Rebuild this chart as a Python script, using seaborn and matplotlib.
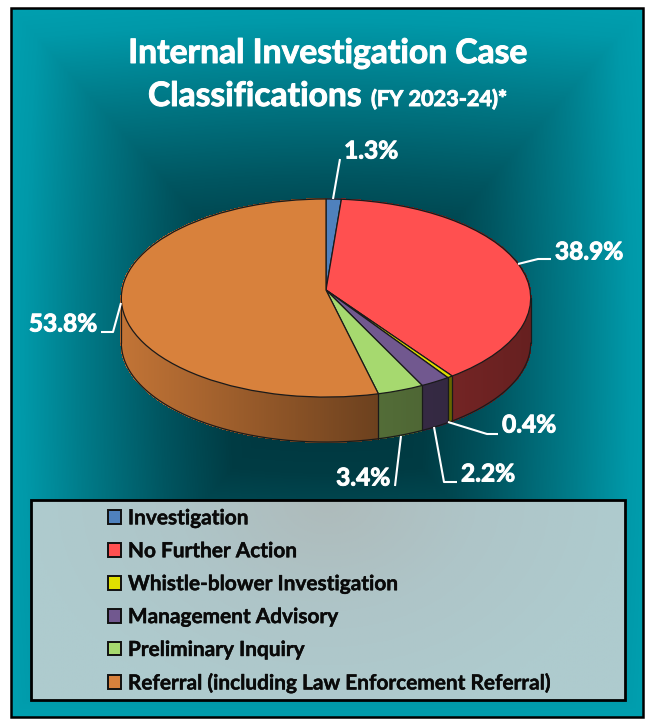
import numpy as np
import matplotlib
matplotlib.use("Agg")
import matplotlib.pyplot as plt
import matplotlib.transforms as mtransforms
import matplotlib.patheffects as pe
from matplotlib.collections import PolyCollection
from matplotlib.patches import Rectangle
from matplotlib.colors import LinearSegmentedColormap, to_rgb
import seaborn as sns

categories = ["Investigation", "No Further Action", "Whistle-blower Investigation",
              "Management Advisory", "Preliminary Inquiry",
              "Referral (including Law Enforcement Referral)"]
values = [1.3, 38.9, 0.4, 2.2, 3.4, 53.8]
colors = ["#4F81BD", "#FF5050", "#DFDF00", "#71588F", "#A6D96F", "#D8813C"]

label_pos = [(371, 151), (589, 252), (529, 425), (488, 474), (363, 478), (63, 324)]
leaders = [[(340, 159), (333, 199)],
           [(551, 259), (538, 259), (518, 264)],
           [(448, 422), (487, 434), (498, 434)],
           [(434, 427), (444, 482), (457, 482)],
           [(401, 436), (395, 486)],
           [(121, 303), (113, 332), (101, 332)]]

CX, CY, A, B, K, DEPTH = 326.0, 290.0, 204.0, 98.4, 0.081, 45.0
FONT = "Lato"

sns.set_theme(style="white")
plt.rcParams["font.family"] = [FONT, "DejaVu Sans"]


class Tilt(mtransforms.Transform):
    input_dims = 2
    output_dims = 2
    is_separable = False

    def transform_non_affine(self, values):
        v = np.asarray(values, dtype=float)
        w = 1 + K * v[:, 1]
        return np.column_stack([CX + A * v[:, 0] / w, CY - B * v[:, 1] / w])


tilt = Tilt()
fig = plt.figure(figsize=(6.45, 7.19), dpi=100, facecolor="white")
ax = fig.add_axes([0, 0, 1, 1])
heavy = [pe.withStroke(linewidth=0.7, foreground="white")]
heavy_dark = [pe.withStroke(linewidth=0.3, foreground="#0a0a0a")]

# background gradient
gx, gy = np.meshgrid(np.arange(11, 644), np.arange(8, 718))
t = np.maximum(np.abs(gx - 327) / 316, np.abs(gy - 362) / 354)
t2 = np.hypot((gx - 327) / 316, (gy - 362) / 354) / 1.414
tt = 0.85 * t + 0.15 * t2
bg = LinearSegmentedColormap.from_list("bg", [(0, "#00323A"), (0.3, "#003C44"), (0.5, "#005560"),
                                              (0.75, "#007C8A"), (0.92, "#0099A9"), (1, "#00A0B0")])
ax.imshow(tt, cmap=bg, vmin=0, vmax=1, extent=(11, 644, 718, 8), aspect="auto", zorder=0, interpolation="bilinear")
ax.add_patch(Rectangle((11, 8), 632, 709, fill=False, edgecolor="black", linewidth=1.8, zorder=6))

# wall of the disc
cum = np.concatenate([[0], np.cumsum(values)]) / 100 * 2 * np.pi


def rim(phi, drop=0.0):
    pts = tilt.transform_non_affine(np.column_stack([np.sin(phi), np.cos(phi)]))
    pts[:, 1] += drop
    return pts


polys, faces = [], []
for i, c in enumerate(colors):
    n = max(2, int(np.degrees(cum[i + 1] - cum[i]) * 2))
    ph = np.linspace(cum[i], cum[i + 1], n)
    for a0, a1 in zip(ph[:-1], ph[1:]):
        seg = np.array([a0, a1])
        top, low = rim(seg), rim(seg, DEPTH)
        polys.append(np.vstack([top, low[::-1]]))
        f = np.interp(top[:, 0].mean(), [120, 378, 530], [0.9, 0.5, 0.4])
        faces.append(np.array(to_rgb(c)) * f)
ax.add_collection(PolyCollection(polys, facecolors=faces, edgecolors="face", linewidths=0.6,
                                 antialiaseds=False, zorder=2))

ext = np.arccos(-K)
front = np.linspace(ext, 2 * np.pi - ext, 200)
ax.plot(*rim(front, DEPTH).T, color="#1a1a1a", lw=0.9, zorder=3)
for ph in [ext, 2 * np.pi - ext] + [p for p in cum[1:-1] if ext < p < 2 * np.pi - ext]:
    p = np.array([ph])
    ax.plot([rim(p)[0, 0]] * 2, [rim(p)[0, 1], rim(p, DEPTH)[0, 1]], color="#1a1a1a", lw=0.9, zorder=3)

# top face
wedges, _ = ax.pie(values, colors=sns.color_palette(colors), startangle=90, counterclock=False,
                   wedgeprops=dict(edgecolor="#1a1a1a", linewidth=0.9, zorder=4))
for w in wedges:
    w.set_transform(tilt + ax.transData)

ax.set_aspect("auto")
ax.set_xlim(0, 645)
ax.set_ylim(719, 0)
ax.axis("off")

# value labels
for v, (x, y), pts in zip(values, label_pos, leaders):
    ax.text(x, y, f"{v:.1f}%", color="white", fontsize=17.6, fontweight="bold",
            ha="center", va="center", zorder=7, path_effects=heavy)
    ax.plot(*zip(*pts), color="white", lw=1.5, zorder=7, solid_capstyle="butt")

# title
ax.text(328, 53, "Internal Investigation Case", color="white", fontsize=24.2, fontweight="bold",
        ha="center", va="center", zorder=7, path_effects=heavy)
ax.text(148, 106, "Classifications", color="white", fontsize=24.2, fontweight="bold",
        ha="left", va="baseline", zorder=7, path_effects=heavy)
ax.text(371, 106, "(FY 2023-24)*", color="white", fontsize=15.6, fontweight="bold",
        ha="left", va="baseline", zorder=7, path_effects=heavy)

# legend panel
lx, ly = np.meshgrid(np.linspace(-1, 1, 200), np.linspace(0, 1, 70))
panel = LinearSegmentedColormap.from_list("panel", ["#AEBBBB", "#AEC5C8", "#AECBCE"])
ax.imshow(np.clip(np.hypot(lx, ly * 0.9), 0, 1), cmap=panel, vmin=0, vmax=1, extent=(31, 625, 700, 500),
          aspect="auto", zorder=5, interpolation="bilinear")
ax.add_patch(Rectangle((31, 500), 594, 200, fill=False, edgecolor="black", linewidth=2, zorder=5.5))
ax.set_xlim(0, 645)
ax.set_ylim(719, 0)

leg = ax.legend(wedges, categories, loc="upper left", bbox_to_anchor=(100 / 645, 1 - 500 / 719),
                frameon=False, labelspacing=0.62, handlelength=0.62, handleheight=0.62,
                handletextpad=0.32, borderpad=0.4, borderaxespad=0,
                prop=dict(family=FONT, weight="bold", size=15.0))
leg.set_zorder(7)
for txt in leg.get_texts():
    txt.set_color("#0a0a0a")
    txt.set_path_effects(heavy_dark)
for h in leg.legend_handles:
    h.set_edgecolor("#111111")
    h.set_linewidth(1.4)

fig.savefig("out.png", dpi=100, facecolor="white")
